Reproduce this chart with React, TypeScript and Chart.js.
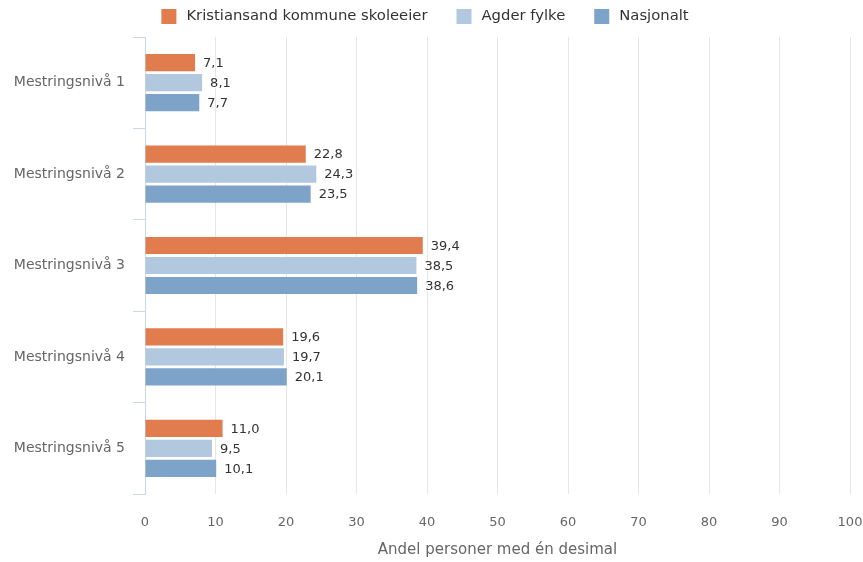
import React, { useEffect, useRef } from "react";
import { Chart, registerables } from "chart.js";

Chart.register(...registerables);

const categories = ["Mestringsnivå 1", "Mestringsnivå 2", "Mestringsnivå 3", "Mestringsnivå 4", "Mestringsnivå 5"];
const seriesNames = ["Kristiansand kommune skoleeier", "Agder fylke", "Nasjonalt"];
const kristiansand = [7.1, 22.8, 39.4, 19.6, 11.0];
const agder = [8.1, 24.3, 38.5, 19.7, 9.5];
const nasjonalt = [7.7, 23.5, 38.6, 20.1, 10.1];
const seriesColors = ["#E07C4E", "#B1C8DE", "#7EA3C9"];
const xTitle = "Andel personer med én desimal";

const FONT = "'DejaVu Sans', Verdana, sans-serif";

const fmt = (v: number) => v.toFixed(1).replace(".", ",");

const dataLabelPlugin = {
  id: "dataLabels",
  afterDatasetsDraw(chart: any) {
    const ctx = chart.ctx;
    ctx.save();
    ctx.font = `13px ${FONT}`;
    ctx.textAlign = "left";
    ctx.textBaseline = "middle";
    chart.data.datasets.forEach((ds: any, di: number) => {
      const meta = chart.getDatasetMeta(di);
      meta.data.forEach((bar: any, i: number) => {
        const txt = fmt(ds.data[i]);
        const x = bar.x + 8;
        const y = bar.y + 1;
        ctx.lineWidth = 2;
        ctx.strokeStyle = "#ffffff";
        ctx.lineJoin = "round";
        ctx.strokeText(txt, x, y);
        ctx.fillStyle = "#333333";
        ctx.fillText(txt, x, y);
      });
    });
    ctx.restore();
  },
};

const legendPlugin = {
  id: "customLegend",
  afterDraw(chart: any) {
    const ctx = chart.ctx;
    ctx.save();
    ctx.font = `14.8px ${FONT}`;
    ctx.textBaseline = "middle";
    ctx.textAlign = "left";
    const box = 15;
    const gapText = 10;
    const gapItem = 29;
    const widths = seriesNames.map((n) => ctx.measureText(n).width);
    const total = widths.reduce((a, w) => a + box + gapText + w, 0) + gapItem * (seriesNames.length - 1);
    let x = 425 - total / 2;
    const cy = 16.5;
    seriesNames.forEach((n, i) => {
      ctx.fillStyle = seriesColors[i];
      ctx.fillRect(x, cy - box / 2, box, box);
      ctx.fillStyle = "#333333";
      ctx.fillText(n, x + box + gapText, cy);
      x += box + gapText + widths[i] + gapItem;
    });
    ctx.restore();
  },
};

export default function App() {
  const ref = useRef<HTMLCanvasElement>(null);
  useEffect(() => {
    if (!ref.current) return;
    Chart.defaults.font.family = FONT;
    const chart = new Chart(ref.current, {
      type: "bar",
      data: {
        labels: categories,
        datasets: [kristiansand, agder, nasjonalt].map((d, i) => ({
          label: seriesNames[i],
          data: d,
          backgroundColor: seriesColors[i],
          borderWidth: 0,
          categoryPercentage: 0.656,
          barPercentage: 0.86,
        })),
      },
      options: {
        indexAxis: "y",
        animation: false,
        responsive: false,
        devicePixelRatio: 1,
        layout: { padding: { top: 37, right: 13, left: 0, bottom: 0 } },
        plugins: {
          legend: { display: false },
          tooltip: { enabled: false },
        },
        scales: {
          x: {
            min: 0,
            max: 100,
            ticks: { stepSize: 10, color: "#666666", font: { size: 13, family: FONT }, padding: 21 },
            grid: { color: "#e6e6e6", drawTicks: false, lineWidth: 1 },
            border: { display: false },
            title: {
              display: true,
              text: xTitle,
              color: "#666666",
              font: { size: 15, family: FONT },
              padding: { top: 0, bottom: 3 },
            },
            afterFit: (s: any) => {
              s.height = 68;
              s.paddingRight = 0;
              s.paddingLeft = 0;
            },
          },
          y: {
            grid: { offset: true, drawOnChartArea: false, tickLength: 12, color: "#ccd6eb", lineWidth: 1 },
            border: { color: "#ccd6eb", width: 1 },
            ticks: { color: "#666666", font: { size: 14, family: FONT }, padding: 8 },
            afterFit: (s: any) => {
              s.width = 145;
              s.paddingTop = 0;
              s.paddingBottom = 0;
            },
          },
        },
      } as any,
      plugins: [dataLabelPlugin, legendPlugin],
    });
    return () => chart.destroy();
  }, []);
  return (
    <div style={{ position: "fixed", left: 0, top: 0, width: 863, height: 562, background: "#fff" }}>
      <canvas ref={ref} width={863} height={562} style={{ width: 863, height: 562 }} />
    </div>
  );
}
